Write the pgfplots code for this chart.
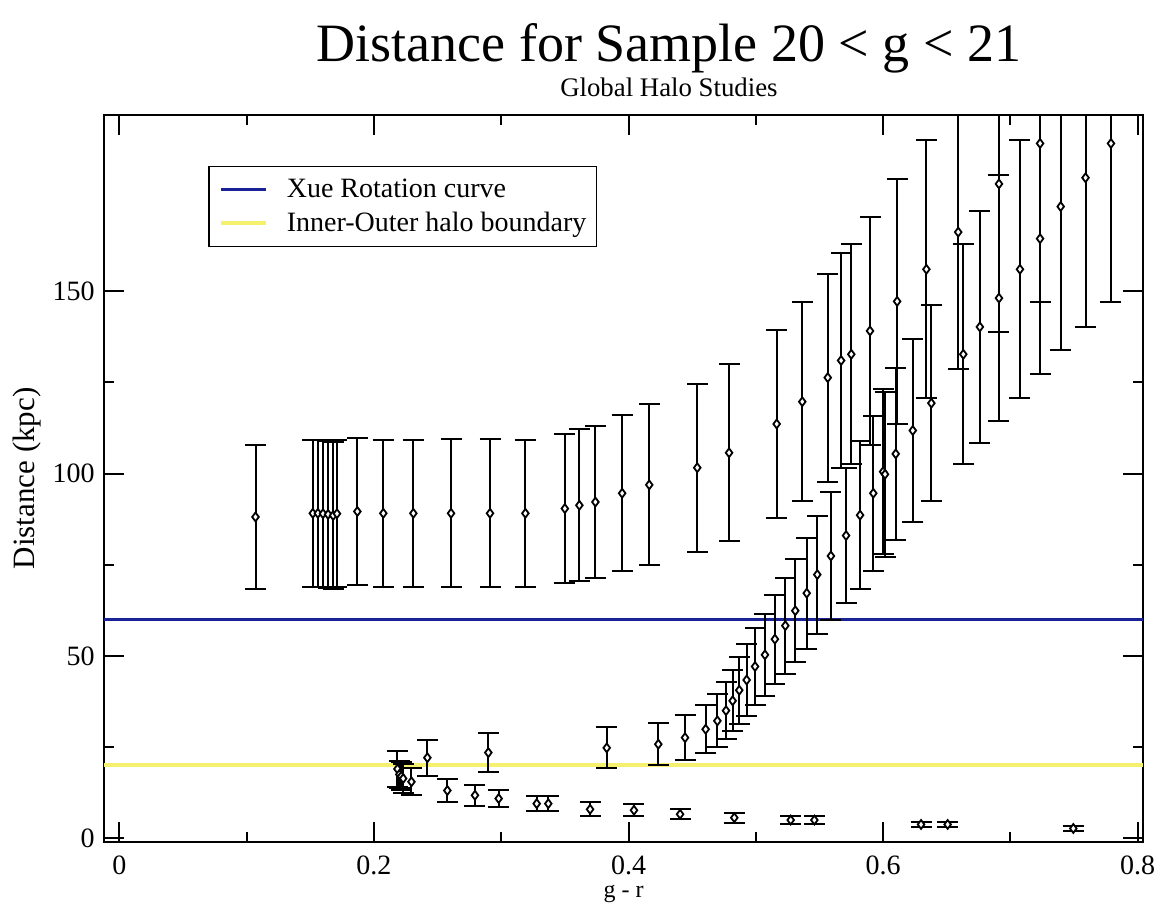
\documentclass[border=0pt]{standalone}
\usepackage{fontspec}
\setmainfont{Liberation Serif}
\usepackage{pgfplots}
\usepackage{pgfplotstable}
\pgfplotsset{compat=1.18}
\definecolor{xblue}{RGB}{25,35,150}
\definecolor{xyellow}{RGB}{245,240,110}

\pgfplotstableread{
x y ey
0.107 88.1 19.8
0.152 89.1 20.2
0.156 89.1 20.2
0.160 89.0 20.2
0.164 88.8 20.2
0.168 88.5 20.2
0.171 89.0 20.2
0.187 89.6 20.2
0.2074 89.1 20.2
0.231 89.1 20.2
0.2606 89.1 20.3
0.2912 89.1 20.3
0.319 89.1 20.2
0.350 90.4 20.5
0.3614 91.3 20.8
0.374 92.2 20.9
0.395 94.6 21.4
0.4163 96.9 22.1
0.454 101.6 23.0
0.479 105.7 24.2
0.5164 113.6 25.8
0.5365 119.7 27.3
0.5565 126.3 28.5
0.567 131.0 29.5
0.575 132.7 30.2
0.5897 139.1 31.2
0.611 147.2 33.5
0.634 156.0 35.4
0.659 166.2 37.6
0.691 179.4 40.6
0.7233 190.5 43.4
0.2899 23.5 5.3
0.3829 24.8 5.6
0.4234 25.8 5.7
0.4444 27.6 6.1
0.4606 29.9 6.6
0.4698 32.2 7.3
0.4766 35.0 7.9
0.4818 37.7 8.4
0.4870 40.6 9.2
0.4928 43.4 9.9
0.4994 47.1 10.5
0.5072 50.3 11.3
0.5150 54.6 12.2
0.5232 58.3 13.2
0.5310 62.4 14.2
0.5400 67.2 15.2
0.5483 72.3 16.2
0.5590 77.4 17.5
0.5709 83.0 18.6
0.5819 88.6 20.2
0.5923 94.6 21.3
0.6000 100.5 22.6
0.6015 99.8 22.6
0.6099 105.4 23.6
0.6233 111.8 25.2
0.6379 119.3 26.9
0.6630 132.7 30.2
0.6760 140.2 31.8
0.6910 148.1 33.7
0.7075 156.0 35.4
0.7233 164.4 37.2
0.7395 173.2 39.4
0.7590 181.1 41.0
0.7790 190.5 43.4
0.2185 19.0 5.0
0.2200 17.5 3.8
0.2215 17.0 3.8
0.2230 16.4 4.0
0.2295 15.5 3.7
0.2420 22.1 4.9
0.2577 13.1 3.1
0.2794 11.8 2.85
0.2980 10.9 2.4
0.3279 9.5 2.0
0.3370 9.5 2.0
0.3698 7.95 1.95
0.4043 7.7 1.6
0.4405 6.6 1.4
0.4831 5.65 1.4
0.5274 5.0 1.15
0.5460 5.0 1.15
0.6298 3.8 0.8
0.6507 3.8 0.8
0.7494 2.7 0.7
}\datatable

\begin{document}
\begin{tikzpicture}
\useasboundingbox (-52pt,-32.15pt) rectangle (528.5pt,420.85pt);
\begin{axis}[
  at={(0pt,0pt)}, anchor=south west,
  scale only axis,
  width=519.65pt, height=363.35pt,
  xmin=-0.01202, xmax=0.8044,
  ymin=-0.93, ymax=198.3,
  clip mode=individual,
  axis line style={line width=1pt},
  xtick={0,0.2,0.4,0.6,0.8},
  xticklabels={0,0.2,0.4,0.6,0.8},
  ytick={0,50,100,150},
  yticklabels={0,50,100,150},
  minor x tick num=1, minor y tick num=1,
  major tick length=10pt, minor tick length=5pt,
  every tick/.style={black, line width=1pt},
  tick align=inside,
  xticklabel style={font=\fontsize{14}{16}\selectfont, anchor=base, inner sep=0pt, yshift=-16.5pt},
  yticklabel style={font=\fontsize{14}{16}\selectfont, anchor=east, inner sep=0pt, xshift=-4.5pt},
  xlabel={g - r},
  ylabel={Distance (kpc)},
  every axis x label/.style={at={(rel axis cs:0.5,-0.0768)}, anchor=base, font=\fontsize{12}{14}\selectfont},
  every axis y label/.style={at={(rel axis cs:-0.0741,0.5)}, rotate=90, anchor=center, font=\fontsize{15.5}{17}\selectfont},
  legend cell align=left,
  legend image code/.code={\draw[#1] (0pt,0pt) -- (22.5pt,0pt); \path (32pt,0pt);},
  legend style={at={(rel axis cs:0.1001,0.9302)}, anchor=north west,
    draw=black, line width=0.8pt, fill=white,
    font=\fontsize{14}{16}\selectfont,
    inner xsep=5pt, inner ysep=4pt, row sep=2pt,
    nodes={inner xsep=0pt, inner ysep=2pt}},
]
\addplot[xblue, line width=1.5pt] coordinates {(-0.01202,60) (0.8044,60)};
\addlegendentry{Xue Rotation curve}
\addplot[xyellow, line width=2pt] coordinates {(-0.01202,20) (0.8044,20)};
\addlegendentry{Inner-Outer halo boundary}
\addplot[only marks, mark=diamond*, mark size=2.2pt,
  mark options={draw=black, fill=white, line width=0.9pt},
  forget plot,
  error bars/.cd, y dir=both, y explicit,
  error bar style={black, line width=1pt},
  error mark options={rotate=90, black, line width=1pt, mark size=5.25pt}]
  table[x=x, y=y, y error=ey] {\datatable};
\node[anchor=base, font=\fontsize{27}{30}\selectfont] at (rel axis cs:0.5436,1.0743) {Distance for Sample 20 < g < 21};
\node[anchor=base, font=\fontsize{13.4}{15}\selectfont] at (rel axis cs:0.5436,1.0248) {Global Halo Studies};
\end{axis}
\end{tikzpicture}
\end{document}
